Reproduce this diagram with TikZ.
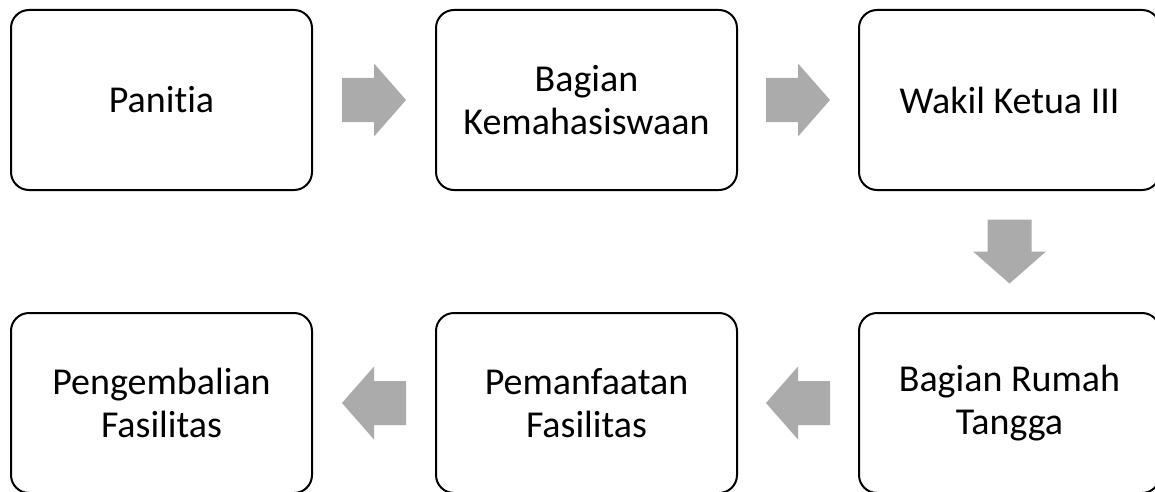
\documentclass[tikz,border=0pt]{standalone}
\usepackage{fontspec}
\setmainfont{Carlito}[Ligatures=NoCommon]
\usepackage{tikz}
\usetikzlibrary{calc}

\begin{document}
\begin{tikzpicture}[x=1pt, y=1pt,
	box/.style={draw, line width=2pt, rounded corners=18pt, minimum width=301pt, minimum height=180pt, align=center, font=\fontsize{38}{43}\selectfont},
	blockarr/.pic={\fill[black!33, sharp corners] (-32,-22) -- (0,-22) -- (0,-36.5) -- (32,0) -- (0,36.5) -- (0,22) -- (-32,22) -- cycle;}]
\useasboundingbox (0,0) rectangle (1155,491);
\node[box] (panitia) at (161.5,391) {Panitia};
\node[box] (kemahasiswaan) at (586.5,391) {Bagian\\Kemahasiswaan};
\node[box] (waket) at (1009.5,391) {Wakil Ketua III};
\node[box] (rumahtangga) at (1009.5,88) {Bagian Rumah\\Tangga};
\node[box] (pemanfaatan) at (586.5,88) {Pemanfaatan\\Fasilitas};
\node[box] (pengembalian) at (161.5,88) {Pengembalian\\Fasilitas};
% block arrows between the boxes
\pic at ($(panitia.east)!0.5!(kemahasiswaan.west)$) {blockarr};
\pic at ($(kemahasiswaan.east)!0.5!(waket.west)$) {blockarr};
\pic[rotate=-90] at ($(waket.south)!0.5!(rumahtangga.north)$) {blockarr};
\pic[rotate=180] at ($(rumahtangga.west)!0.5!(pemanfaatan.east)$) {blockarr};
\pic[rotate=180] at ($(pemanfaatan.west)!0.5!(pengembalian.east)$) {blockarr};
\end{tikzpicture}
\end{document}
